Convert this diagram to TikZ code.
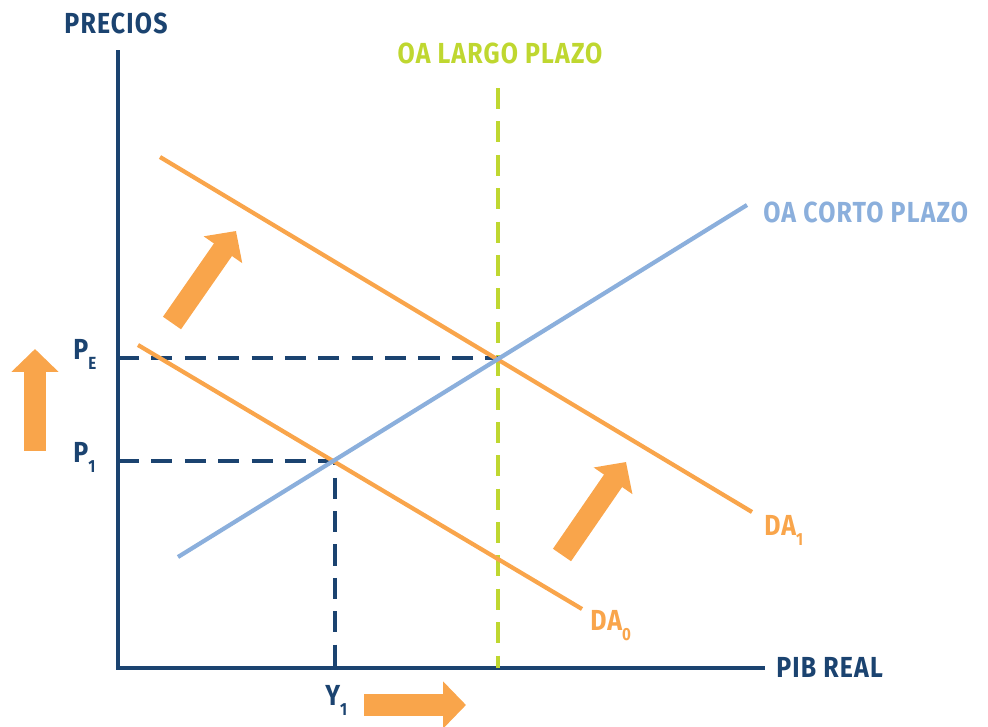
\documentclass[tikz,border=0pt]{standalone}
\usepackage{fontspec}
\newfontfamily\chartfont{Fira Sans}[FakeStretch=0.86, LetterSpace=4]
\usetikzlibrary{positioning,arrows.meta}
\definecolor{axisblue}{HTML}{1B4370}
\definecolor{daorange}{HTML}{F9A54B}
\definecolor{oablue}{HTML}{8BAFDC}
\definecolor{oagreen}{HTML}{BFD730}
\newcommand{\lowidx}[1]{\raisebox{-6pt}{\fontsize{10}{10}\selectfont #1}}

\begin{document}
\begin{tikzpicture}[x=0.02cm, y=-0.02cm,
				axis/.style={axisblue, line width=2.4pt},
				guide/.style={axisblue, line width=2.4pt, dash pattern=on 12pt off 7pt},
				longrun/.style={oagreen, line width=2.4pt, dash pattern=on 12pt off 7pt},
				demand/.style={daorange, line width=2.4pt},
				supply/.style={oablue, line width=2.4pt},
				shiftarrow/.style={daorange, line width=12.5pt, -{Triangle[length=13pt, width=26pt]}},
				lbl/.style={font=\chartfont\bfseries\fontsize{16.5}{18}\selectfont, inner sep=0pt}
			]
			\useasboundingbox (0,0) rectangle (988,727);
			% axes
			\coordinate (ytop) at (118,50);
			\coordinate (origin) at (118,668);
			\coordinate (xend) at (765,668);
			\draw[axis] (ytop) -- (origin) -- (xend);
			% curves
			\coordinate (da1start) at (160,157);
			\coordinate (da1end) at (752,512);
			\coordinate (da0start) at (138,345);
			\coordinate (da0end) at (582,609);
			\coordinate (oacstart) at (178,557);
			\coordinate (oacend) at (747,205);
			\coordinate (oaltop) at (498,88);
			\coordinate (oalbottom) at (498,668);
			\coordinate (eqnew) at (498,358);
			\coordinate (eqold) at (335,461);
			\coordinate (peaxis) at (118,358);
			\coordinate (p1axis) at (118,461);
			\coordinate (y1axis) at (335,668);
			\draw[longrun] (oaltop) -- (oalbottom);
			\draw[guide] (peaxis) -- (eqnew);
			\draw[guide] (p1axis) -- (eqold) -- (y1axis);
			\draw[demand] (da1start) -- (da1end);
			\draw[demand] (da0start) -- (da0end);
			\draw[supply] (oacstart) -- (oacend);
			% labels
			\node[lbl, axisblue, anchor=base] (precios) at (116,33) {PRECIOS};
			\node[lbl, axisblue, anchor=base west] (pibreal) at (776,677) {PIB REAL};
			\node[lbl, oagreen, anchor=base] (oalargo) at (500,63) {OA LARGO PLAZO};
			\node[lbl, oablue, anchor=base west] (oacorto) at (763,222) {OA CORTO PLAZO};
			\node[lbl, daorange, anchor=base west] (daone) at (764,535) {DA\lowidx{1}};
			\node[lbl, daorange, anchor=base west] (dazero) at (590,630) {DA\lowidx{0}};
			\node[lbl, axisblue, anchor=base west] (pe) at (73,359) {P\lowidx{E}};
			\node[lbl, axisblue, anchor=base west] (pone) at (73,462) {P\lowidx{1}};
			\node[lbl, axisblue, anchor=base west] (yone) at (325,705) {Y\lowidx{1}};
			% shift arrows
			\coordinate (upstart) at (35,451);
			\coordinate (uptip) at (35,349);
			\coordinate (rightstart) at (364,705);
			\coordinate (righttip) at (466,705);
			\coordinate (diagastart) at (172,323);
			\coordinate (diagatip) at (236,231);
			\coordinate (diagbstart) at (562,555);
			\coordinate (diagbtip) at (626,462);
			\draw[shiftarrow] (upstart) -- (uptip);
			\draw[shiftarrow] (rightstart) -- (righttip);
			\draw[shiftarrow] (diagastart) -- (diagatip);
			\draw[shiftarrow] (diagbstart) -- (diagbtip);
			\end{tikzpicture}
\end{document}
